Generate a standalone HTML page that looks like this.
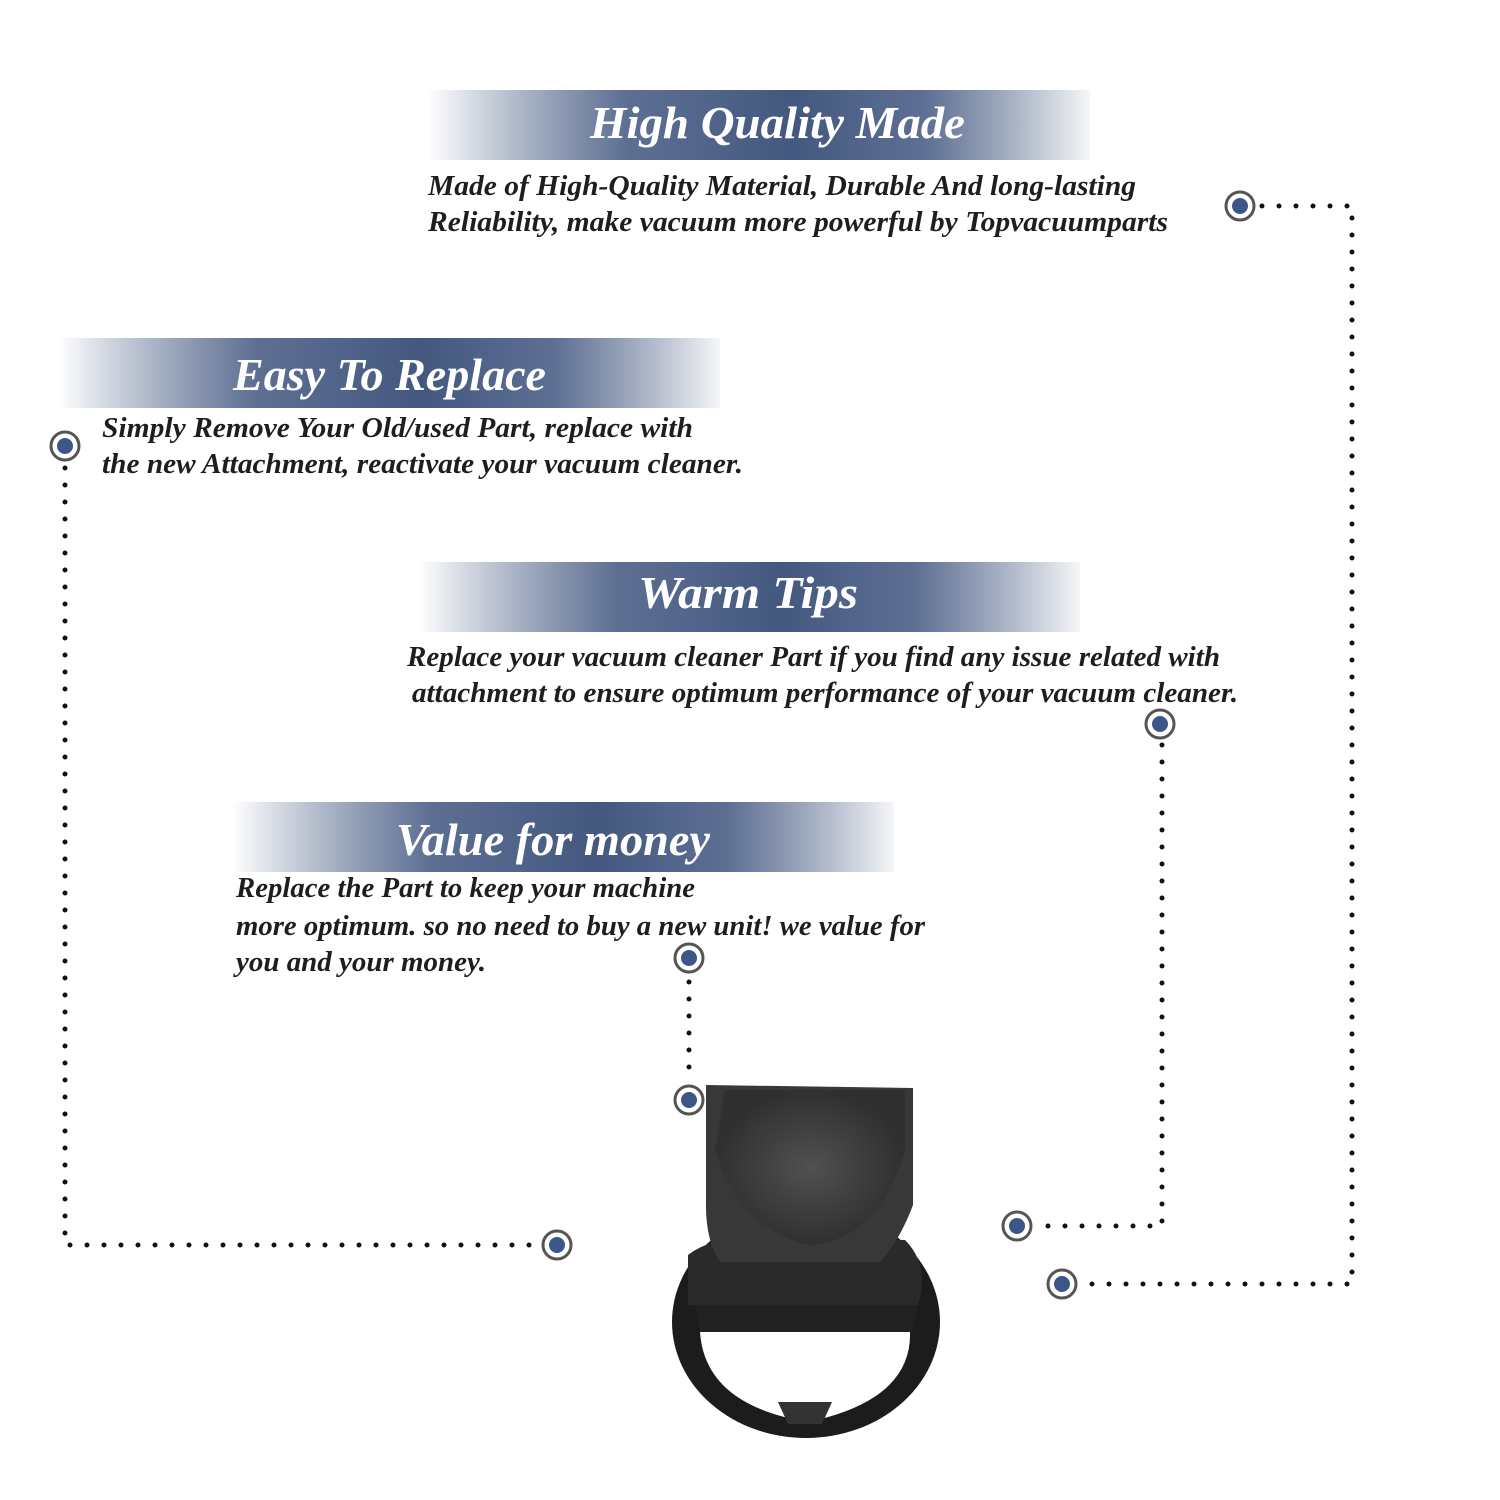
<!DOCTYPE html>
<html><head><meta charset="utf-8"><style>
html,body{margin:0;padding:0;background:#fff;width:1500px;height:1500px;overflow:hidden}
</style></head><body>
<svg width="1500" height="1500" viewBox="0 0 1500 1500" xmlns="http://www.w3.org/2000/svg">
<defs>
<linearGradient id="bg" x1="0" x2="1" y1="0" y2="0">
<stop offset="0" stop-color="#44587f" stop-opacity="0"/>
<stop offset="0.3" stop-color="#5d6f93"/>
<stop offset="0.55" stop-color="#44587f"/>
<stop offset="0.75" stop-color="#5d6f93"/>
<stop offset="1" stop-color="#44587f" stop-opacity="0.05"/>
</linearGradient>
<radialGradient id="sh" cx="0.5" cy="0.5" r="0.5"><stop offset="0" stop-color="#555"/><stop offset="1" stop-color="#2e2e2e"/></radialGradient>
<g id="m"><circle r="14" fill="#fff" stroke="#555" stroke-width="3"/><circle r="8" fill="#3d5688"/></g>
</defs>
<rect x="428" y="90" width="662" height="70" fill="url(#bg)"/>
<rect x="58" y="338" width="662" height="70" fill="url(#bg)"/>
<rect x="418" y="562" width="662" height="70" fill="url(#bg)"/>
<rect x="232" y="802" width="662" height="70" fill="url(#bg)"/>
<g font-family="Liberation Serif, serif" font-style="italic" font-weight="bold" fill="#fff" font-size="46">
<text x="590" y="138" textLength="375" lengthAdjust="spacingAndGlyphs">High Quality Made</text>
<text x="233" y="390" textLength="313" lengthAdjust="spacingAndGlyphs">Easy To Replace</text>
<text x="638" y="608" textLength="220" lengthAdjust="spacingAndGlyphs">Warm Tips</text>
<text x="396" y="855" textLength="314" lengthAdjust="spacingAndGlyphs">Value for money</text>
</g>
<g font-family="Liberation Serif, serif" font-style="italic" font-weight="bold" fill="#1e1e1e" font-size="29">
<text x="428" y="195" textLength="708" lengthAdjust="spacingAndGlyphs">Made of  High-Quality Material, Durable And long-lasting</text>
<text x="428" y="231" textLength="740" lengthAdjust="spacingAndGlyphs">Reliability, make vacuum more powerful by Topvacuumparts</text>
<text x="102" y="437" textLength="591" lengthAdjust="spacingAndGlyphs">Simply Remove Your Old/used Part, replace with</text>
<text x="102" y="473" textLength="641" lengthAdjust="spacingAndGlyphs">the new Attachment, reactivate your vacuum cleaner.</text>
<text x="407" y="666" textLength="813" lengthAdjust="spacingAndGlyphs">Replace your vacuum cleaner Part if you find any issue related with</text>
<text x="412" y="702" textLength="826" lengthAdjust="spacingAndGlyphs">attachment to ensure optimum performance of your vacuum cleaner.</text>
<text x="236" y="897" textLength="459" lengthAdjust="spacingAndGlyphs">Replace the Part to keep your machine</text>
<text x="236" y="935" textLength="689" lengthAdjust="spacingAndGlyphs">more optimum. so no need to buy a new unit! we value for</text>
<text x="236" y="971" textLength="250" lengthAdjust="spacingAndGlyphs">you and your money.</text>
</g>
<g fill="none" stroke="#111" stroke-width="5" stroke-linecap="round" stroke-dasharray="0 17">
<path d="M1262 206 H1352 V1284 H1085"/>
<path d="M65 468 V1245 H535"/>
<path d="M1162 745 V1226 H1040"/>
<path d="M689 982 V1078"/>
</g>
<g>
<ellipse cx="806" cy="1322" rx="134" ry="116" fill="#1c1c1c"/>
<path d="M700 1332 L910 1332 Q912 1400 808 1422 Q705 1405 700 1332 Z" fill="#fff"/>
<path d="M688 1305 L688 1255 Q720 1230 790 1240 L905 1240 Q930 1265 918 1305 Z" fill="#2a2a2a"/>
<path d="M695 1305 L918 1305 L912 1332 L700 1332 Z" fill="#222"/>
<path d="M706 1085 L913 1088 L913 1205 Q900 1240 880 1262 L720 1262 Q705 1240 706 1200 Z" fill="#383838"/>
<path d="M725 1090 L905 1090 L905 1150 Q880 1240 810 1245 Q740 1230 715 1150 Z" fill="url(#sh)" opacity="0.85"/>
<path d="M778 1402 L832 1402 L822 1424 L788 1424 Z" fill="#333"/>
</g>
<use href="#m" x="1240" y="206"/>
<use href="#m" x="1062" y="1284"/>
<use href="#m" x="65" y="446"/>
<use href="#m" x="557" y="1245"/>
<use href="#m" x="1160" y="724"/>
<use href="#m" x="1017" y="1226"/>
<use href="#m" x="689" y="958"/>
<use href="#m" x="689" y="1100"/>
</svg>
</body></html>
